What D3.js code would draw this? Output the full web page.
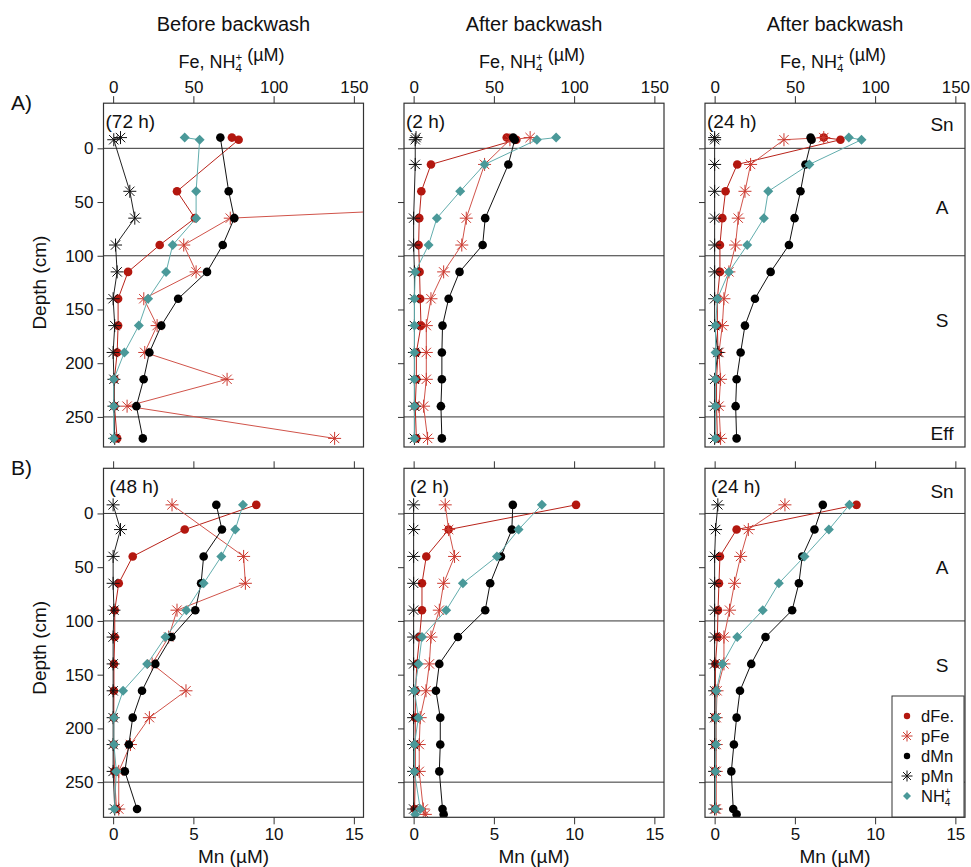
<!DOCTYPE html>
<html lang="en">
<head>
<meta charset="utf-8">
<title>Depth profiles before / after backwash</title>
<script src="https://d3js.org/d3.v7.min.js"></script>
<style>
  body { margin: 0; background: #fff; }
  svg text { font-family: "Liberation Sans", Arial, sans-serif; fill: #111; }
  .tick line { stroke: #333; }
</style>
</head>
<body>
<div id="chart"></div>
<script>
"use strict"

// depths (cm) of the samples, top row (A) and bottom row (B)
const depthsA = [-10, -8, 15, 40, 65, 90, 115, 140, 165, 190, 215, 240, 270];
const depthsB = [-8, 15, 40, 65, 90, 115, 140, 165, 190, 215, 240, 275, 280];

// Fe and NH4+ in uM (top axis), Mn in uM (bottom axis)
const a1_dFe = [74, 78.2, null, 39.8, 51, 29, 9.3, 3.1, 3.1, 2.5, 0.8, 0.8, 2.5];
const a1_pFe = [null, null, null, 436, 73, 44, 51.7, 19.1, 27.4, 19.7, 71, 8.7, 138];
const a1_dMn = [6.68, null, null, 7.2, 7.55, 6.83, 5.85, 4.05, 3.0, 2.26, 1.9, 1.45, 1.85];
const a1_pMn = [0.46, 0.04, null, 1.04, 1.35, 0.15, 0.25, 0.0, 0.1, 0.0, 0.05, 0.05, 0.1];
const a1_NH4 = [44.6, 53.9, null, 51.7, 51.7, 37.1, 33, 21.8, 16, 7, 0.4, 0.4, 0.4];

const a2_dFe = [58, 64, 10.8, 4.8, 3.5, 3.1, 3.7, 4.1, 4.6, 1.7, 1.7, 1, 1.7];
const a2_pFe = [72.6, 60, 44.2, null, 32.8, 30, 18.7, 10.8, 7.9, 7.9, 7.9, 6.2, 8.7];
const a2_dMn = [6.2, 6.3, 5.9, null, 4.46, 4.3, 2.86, 2.18, 1.8, 1.76, 1.76, 1.7, 1.76];
const a2_pMn = [0.15, 0.1, 0.1, null, 0, 0, 0.05, 0.05, 0.05, 0.05, 0.05, 0.05, 0.05];
const a2_NH4 = [88.8, 76.8, 44.2, 29, 14.5, 9.3, 1, 0.5, 0.5, 0.5, 0.5, 0.5, 0.5];

const a3_dFe = [68, 78.4, 14.1, 6.8, 4.8, 3.3, 3.3, 1.7, 1.7, 2.1, 1.2, 1.2, 1.7];
const a3_pFe = [68, 43.2, 22.4, 18.9, 14.7, 13, 8.9, 5.8, 4.8, 2.7, 3.7, 2.7, 3.7];
const a3_dMn = [5.98, 6.04, 5.66, 5.35, 4.98, 4.63, 3.49, 2.51, 1.89, 1.62, 1.37, 1.31, 1.37];
const a3_pMn = [0, 0, 0, 0, 0, 0, 0, 0, 0, 0.2, 0, 0, 0];
const a3_NH4 = [83.6, 91.5, 59, 33.4, 30.7, 20.3, 8.9, 1.7, 0.6, 0.6, 0.6, 0.6, 0.6];

const b1_dFe = [89.2, 44.6, 12.2, 3.5, 1, 1, 0.5, 0.5, 0.4, 0.4, 0.8, 2, null];
const b1_pFe = [36.7, null, 81.3, 82.4, 39.8, 34.6, 24.3, 45.4, 22.6, 10.8, 3.5, 3.5, null];
const b1_dMn = [6.43, 6.78, 5.64, 5.48, 5.12, 3.63, 2.63, 1.8, 1.22, 0.98, 0.73, 1.49, null];
const b1_pMn = [0, 0.46, 0, 0, 0.05, 0, 0, 0, 0, 0, 0, 0.1, null];
const b1_NH4 = [80.9, 76.1, 67.4, 56.4, 45.6, 32.6, 21.2, 6.2, 0.5, 0.5, 2, 0.8, null];

const b2_dFe = [101.2, 21.8, 7.9, 5.2, 5.2, 3.7, 2, 1.2, 1, 1, 1, 0.6, null];
const b2_pFe = [19.7, 21.8, 25.5, 18.7, 16, 10.8, 9.8, 7.7, 4.1, 3.5, 3.5, 6, 7.3];
const b2_dMn = [6.18, 6.12, 5.44, 4.77, 4.46, 2.76, 1.6, 1.39, 1.66, 1.66, 1.6, 1.8, 1.87];
const b2_pMn = [0, 0, 0, 0, 0, 0, 0, 0, 0, 0, 0, 0, null];
const b2_NH4 = [79.9, 65.4, 51.9, 30.7, 20.3, 5.2, 3.1, 0.5, 3, 0.5, 0.5, 4.1, 1];

const b3_dFe = [88.4, 13.7, 3.3, 2.7, 2.1, 1.7, 0.5, 0.5, 0.3, 0.3, 0.3, 0.3, null];
const b3_pFe = [43.8, 21, 16.2, 12.4, 9.3, 5.8, 5.8, 1.5, 1, 1, 1, 1, null];
const b3_dMn = [6.74, 6.22, 5.46, 5.25, 4.83, 3.17, 2.28, 1.58, 1.37, 1.2, 1.04, 1.16, 1.37];
const b3_pMn = [0.2, 0.06, 0, 0, 0, 0, 0, 0, 0, 0, 0, 0, null];
const b3_NH4 = [84, 71.2, 56, 40, 30, 14.1, 4.8, 1, 0.8, 0.8, 0.5, 0.5, null];

// ticks, zone lines and labels
const feTicks = [0, 50, 100, 150];
const mnTicks = [0, 5, 10, 15];
const depthTicks = [0, 50, 100, 150, 200, 250];
const zoneDepths = [0, 100, 250];
const zonesA = [["Sn", -23], ["A", 55], ["S", 160], ["Eff", 265]];
const zonesB = [["Sn", -21], ["A", 50], ["S", 141]];
const colTitles = ["Before backwash", "After backwash", "After backwash"];
const timesA = ["(72 h)", "(2 h)", "(24 h)"];
const timesB = ["(48 h)", "(2 h)", "(24 h)"];
const legendNames = ["dFe.", "pFe", "dMn", "pMn", "NH"];

// series look
const series = [
  {key: "dFe", mn: false, shape: "dot",      col: "#b3170f", line: "#b8231a"},
  {key: "pFe", mn: false, shape: "star",     col: "#cc3a30", line: "#d0534a"},
  {key: "dMn", mn: true,  shape: "dot",      col: "#000000", line: "#111111"},
  {key: "pMn", mn: true,  shape: "star",     col: "#111111", line: "#222222"},
  {key: "NH4", mn: false, shape: "diamond",  col: "#4a9999", line: "#62adad"}
];

const rows = [
  {top: 103.2, bottom: 447, dom: [-42, 278], depths: depthsA, times: timesA, zones: zonesA, tag: "A)",
   data: [[a1_dFe, a1_pFe, a1_dMn, a1_pMn, a1_NH4],
          [a2_dFe, a2_pFe, a2_dMn, a2_pMn, a2_NH4],
          [a3_dFe, a3_pFe, a3_dMn, a3_pMn, a3_NH4]]},
  {top: 468.3, bottom: 817.3, dom: [-42, 282.7], depths: depthsB, times: timesB, zones: zonesB, tag: "B)",
   data: [[b1_dFe, b1_pFe, b1_dMn, b1_pMn, b1_NH4],
          [b2_dFe, b2_pFe, b2_dMn, b2_pMn, b2_NH4],
          [b3_dFe, b3_pFe, b3_dMn, b3_pMn, b3_NH4]]}
];

const colLeft = [103.5, 404, 705], panelW = 260;

const svg = d3.select('#chart')
  .append('svg')
    .attr('width', 971)
    .attr('height', 867);

function starPath(s) {
  const k = s * 0.72;
  return `M${-s},0H${s}M0,${-s}V${s}M${-k},${-k}L${k},${k}M${-k},${k}L${k},${-k}`;
}
function diamondPath(s) {
  return `M0,${-s}L${s},0L0,${s}L${-s},0Z`;
}

function drawMarker(g, shape, cx, cy, col, size) {
  if (shape === "dot") {
    g.append('circle').attr('cx', cx).attr('cy', cy).attr('r', size.dot).attr('fill', col);
  } else if (shape === "diamond") {
    g.append('path').attr('d', diamondPath(size.dia))
      .attr('transform', `translate(${cx},${cy})`).attr('fill', col);
  } else {
    g.append('path').attr('d', starPath(size.star))
      .attr('transform', `translate(${cx},${cy})`)
      .attr('fill', 'none').attr('stroke', col).attr('stroke-width', 1);
  }
}

// NH4+ with stacked sub/superscript
function nh4(textSel, small) {
  textSel.append('tspan').text('NH');
  textSel.append('tspan').attr('font-size', small).attr('dy', 4).text('4');
  textSel.append('tspan').attr('font-size', small).attr('dx', -small * 0.56).attr('dy', -11).text('+');
  textSel.append('tspan').attr('dy', 7).text('');
}

function drawPanel(r, c) {
  const row = rows[r];
  const left = colLeft[c], right = left + panelW;
  const x = d3.scaleLinear().domain([-6, 156]).range([left, right]);
  const xm = d3.scaleLinear().domain([-0.6, 15.6]).range([left, right]);
  const y = d3.scaleLinear().domain(row.dom).range([row.top, row.bottom]);

  const clipId = `clip${r}${c}`;
  svg.append('clipPath').attr('id', clipId)
    .append('rect').attr('x', left).attr('y', row.top)
    .attr('width', panelW).attr('height', row.bottom - row.top);

  // zone lines
  svg.append('g').selectAll('line').data(zoneDepths).enter()
    .append('line')
      .attr('x1', left).attr('x2', right)
      .attr('y1', d => y(d)).attr('y2', d => y(d))
      .attr('stroke', '#333').attr('stroke-width', 1);

  // series
  const g = svg.append('g').attr('clip-path', `url(#${clipId})`);
  series.forEach((s, si) => {
    const vals = row.data[c][si];
    const sc = s.mn ? xm : x;
    const pts = row.depths.map((d, i) => ({d: d, v: vals[i]})).filter(p => p.v !== null);
    g.append('path')
      .attr('d', d3.line().x(p => sc(p.v)).y(p => y(p.d))(pts))
      .attr('fill', 'none').attr('stroke', s.line).attr('stroke-width', 1);
    pts.forEach(p => drawMarker(g, s.shape, sc(p.v), y(p.d), s.col, {dot: 4.3, dia: 5, star: 6.5}));
  });

  // box
  svg.append('rect').attr('x', left).attr('y', row.top)
    .attr('width', panelW).attr('height', row.bottom - row.top)
    .attr('fill', 'none').attr('stroke', '#333').attr('stroke-width', 1.2);

  // top axis (Fe, NH4+)
  const top = svg.append('g')
    .attr('transform', `translate(0,${row.top})`)
    .call(d3.axisTop(x).tickValues(feTicks).tickSize(7).tickSizeOuter(0).tickPadding(3)
      .tickFormat(r === 0 ? d3.format('d') : ''));
  top.select('.domain').remove();
  top.selectAll('text').attr('font-size', 17).attr('fill', '#111');

  // left axis (depth)
  const ly = svg.append('g')
    .attr('transform', `translate(${left},0)`)
    .call(d3.axisLeft(y).tickValues(depthTicks).tickSize(6).tickSizeOuter(0).tickPadding(4)
      .tickFormat(c === 0 ? d3.format('d') : ''));
  ly.select('.domain').remove();
  ly.selectAll('text').attr('font-size', 17).attr('fill', '#111');

  // bottom axis (Mn) only on lower row
  if (r === 1) {
    const bx = svg.append('g')
      .attr('transform', `translate(0,${row.bottom})`)
      .call(d3.axisBottom(xm).tickValues(mnTicks).tickSize(7).tickSizeOuter(0).tickPadding(4));
    bx.select('.domain').remove();
    bx.selectAll('text').attr('font-size', 17).attr('fill', '#111');

    svg.append('text').attr('x', (left + right) / 2).attr('y', 863)
      .attr('text-anchor', 'middle').attr('font-size', 19).text('Mn (\u00b5M)');
  } else {
    // column title and Fe axis title
    svg.append('text').attr('x', (left + right) / 2).attr('y', 31)
      .attr('text-anchor', 'middle').attr('font-size', 20).text(colTitles[c]);
    const t = svg.append('text').attr('x', (left + right) / 2 - 2).attr('y', 68)
      .attr('text-anchor', 'middle').attr('font-size', 18);
    t.append('tspan').text('Fe, ');
    nh4(t, 11.5);
    t.append('tspan').text(' (\u00b5M)');
  }

  // time label
  svg.append('text').attr('x', left + (r === 0 ? 2 : 6)).attr('y', row.top + 25)
    .attr('font-size', 19).text(row.times[c]);

  // zone labels in last column
  if (c === 2) {
    svg.append('g').selectAll('text').data(row.zones).enter()
      .append('text')
        .attr('x', 942).attr('y', d => y(d[1]) + 7)
        .attr('text-anchor', 'middle').attr('font-size', 19)
        .text(d => d[0]);
  }

  // row tag and depth title
  if (c === 0) {
    svg.append('text').attr('x', 11).attr('y', row.top + 7)
      .attr('font-size', 21).text(row.tag);
    svg.append('text')
      .attr('transform', `translate(46,${y(125)}) rotate(-90)`)
      .attr('text-anchor', 'middle').attr('font-size', 19).text('Depth (cm)');
  }
}

for (let r = 0; r < 2; r++) {
  for (let c = 0; c < 3; c++) drawPanel(r, c);
}

// legend in lower right panel
const lg = svg.append('g');
lg.append('rect').attr('x', 892).attr('y', 696).attr('width', 72).attr('height', 121)
  .attr('fill', '#fff').attr('stroke', '#333').attr('stroke-width', 1);
legendNames.forEach((name, i) => {
  const yy = 716 + i * 20;
  drawMarker(lg, series[i].shape, 907, yy, series[i].col, {dot: 3.2, dia: 4, star: 5.5});
  const t = lg.append('text').attr('x', 921).attr('y', yy + 6).attr('font-size', 16.5);
  if (i === 4) nh4(t, 10); else t.text(name);
});
</script>
</body>
</html>
